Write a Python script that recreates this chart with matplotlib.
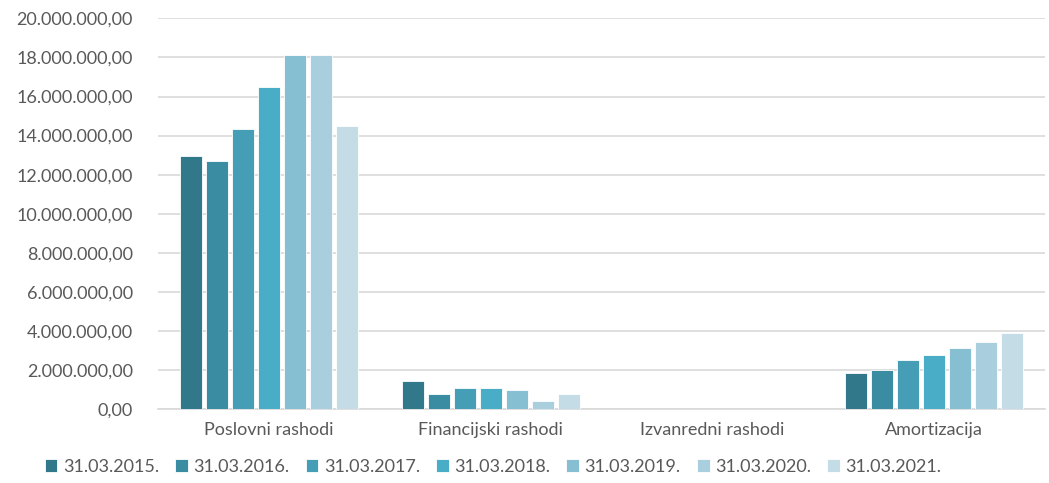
import numpy as np
import matplotlib.pyplot as plt
from matplotlib.ticker import FuncFormatter

categories = ['Poslovni rashodi', 'Financijski rashodi', 'Izvanredni rashodi', 'Amortizacija']
periods = ['31.03.2015.', '31.03.2016.', '31.03.2017.', '31.03.2018.',
           '31.03.2019.', '31.03.2020.', '31.03.2021.']

v2015 = [12970000, 1450000, 0, 1840000]
v2016 = [12690000, 780000, 0, 2020000]
v2017 = [14320000, 1070000, 0, 2500000]
v2018 = [16500000, 1070000, 0, 2790000]
v2019 = [18130000, 970000, 0, 3160000]
v2020 = [18130000, 410000, 0, 3430000]
v2021 = [14490000, 780000, 0, 3910000]
series = [v2015, v2016, v2017, v2018, v2019, v2020, v2021]

colors = ['#31788A', '#3A8CA3', '#459DB6', '#4AADC7', '#86BFD2', '#A9CFDE', '#C4DCE6']

plt.rcParams['font.family'] = ['Lato', 'DejaVu Sans']

fig = plt.figure(figsize=(10.49, 4.83), dpi=100)
ax = fig.add_axes([0.1506, 0.1526, 0.8456, 0.8095])

x = np.arange(len(categories))
group = 0.82
slot = group / len(series)
for i, vals in enumerate(series):
    pos = x - group / 2 + slot * (i + 0.5)
    ax.bar(pos, vals, width=slot * 0.85, color=colors[i], edgecolor='white',
           linewidth=0.6, label=periods[i], zorder=3)

ax.set_xlim(-0.5, len(categories) - 0.5)
ax.set_ylim(0, 20000000)
ax.set_yticks(np.arange(0, 20000001, 2000000))


def fmt(v, p):
    s = f'{int(round(v)):,}'.replace(',', '.')
    return s + ',00'


ax.yaxis.set_major_formatter(FuncFormatter(fmt))
ax.set_xticks(x)
ax.set_xticklabels(categories)
ax.grid(axis='y', color='#D9D9D9', linewidth=1.2, zorder=0)
for s in ['top', 'right', 'left']:
    ax.spines[s].set_visible(False)
ax.spines['bottom'].set_color('#D9D9D9')
ax.spines['bottom'].set_linewidth(1.2)
ax.tick_params(axis='both', length=0, colors='#595959', labelsize=13)
ax.tick_params(axis='y', pad=18)
ax.tick_params(axis='x', pad=9)

fig.legend(loc='center', bbox_to_anchor=(0.47, 0.033), ncol=7, frameon=False,
           fontsize=13, labelcolor='#595959', handlelength=0.7, handleheight=0.7,
           handletextpad=0.3, columnspacing=0.9)

fig.savefig('out.png', dpi=100)
